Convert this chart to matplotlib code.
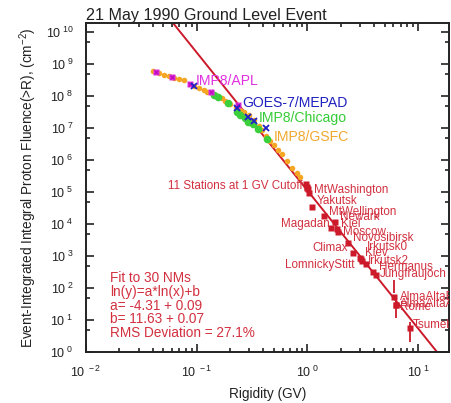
import numpy as np
import matplotlib
matplotlib.use("Agg")
import matplotlib.pyplot as plt
from matplotlib.ticker import LogLocator, FuncFormatter, NullFormatter

plt.rcParams['font.family'] = ['Liberation Sans', 'DejaVu Sans']
plt.rcParams['mathtext.fontset'] = 'custom'
plt.rcParams['mathtext.rm'] = 'Liberation Sans'

# fit: ln(y) = a*ln(x) + b
fit_a = -4.31
fit_b = 11.63

# satellite data (rigidity GV, fluence > R)
gsfc_x = [0.0407, 0.0457, 0.0507, 0.0563, 0.0625, 0.0693, 0.0769, 0.0946, 0.105, 0.116,
          0.125, 0.138, 0.153, 0.170, 0.182, 0.202, 0.225, 0.249, 0.267, 0.296, 0.329,
          0.365, 0.391, 0.428, 0.465, 0.497, 0.541, 0.592, 0.656, 0.728, 0.81, 0.865]
gsfc_y = [6.0e8, 5.1e8, 4.5e8, 4.2e8, 3.7e8, 3.4e8, 3.2e8, 2.1e8, 1.8e8, 1.5e8,
          1.36e8, 1.2e8, 1.02e8, 8.5e7, 6.9e7, 5.5e7, 4.6e7, 3.6e7, 3.2e7, 2.6e7, 1.8e7,
          1.18e7, 8.7e6, 5.4e6, 3.9e6, 2.9e6, 2.1e6, 1.5e6, 9.3e5, 5.7e5, 3.8e5, 3.0e5]
chicago_x = [0.144, 0.156, 0.192, 0.231, 0.248, 0.276, 0.289, 0.321, 0.357, 0.433]
chicago_y = [1.07e8, 9.5e7, 5.9e7, 3.2e7, 2.6e7, 2.0e7, 1.58e7, 1.3e7, 9.3e6, 4.6e6]
apl_x = [0.0428, 0.0604, 0.087, 0.135, 0.237]
apl_y = [5.5e8, 4.0e8, 2.3e8, 1.3e8, 5.2e7]
goes_x = [0.0946, 0.231, 0.294, 0.327, 0.422]
goes_y = [2.1e8, 4.1e7, 2.2e7, 1.67e7, 9.6e6]

# neutron monitor stations
cluster_x = [0.97, 0.99, 1.01, 1.03]
cluster_y = [1.75e5, 1.45e5, 1.2e5, 9.5e4]
station_names = ['MtWashington', 'Yakutsk', 'MtWellington', 'Newark', 'Magadan', 'Kiel',
                 'Moscow', 'Novosibirsk', 'Climax', 'Irkutsk0', 'Kiev', 'LomnickyStitt',
                 'Irkutsk2', 'Hermanus', 'Jungfraujoch', 'AlmaAltaB', 'AlmaAltaA', 'Rome',
                 'Tsumeb']
station_x = [1.0, 1.10, 1.42, 1.79, 1.63, 1.85, 1.91, 2.31, 2.61, 3.0, 3.07, 3.11,
             3.40, 3.96, 4.19, 6.08, 6.3, 6.3, 8.47]
station_y = [1.36e5, 3.5e4, 1.8e4, 1.18e4, 7.6e3, 6.9e3, 5.7e3, 2.5e3, 1.2e3, 8.5e2, 7.9e2,
             6.9e2, 5.5e2, 3.2e2, 2.6e2, 52, 29.5, 29.5, 5.7]
# stations drawn with error bars
err_x = [6.08, 6.3, 8.47]
err_y = [110, 29.5, 5.7]
err_lo = [69, 11.5, 2.1]
err_hi = [178, 42, 8.9]

# label offsets in pixels (dx, dy, ha)
label_off = [(7, -2, 'left'), (5, 6, 'left'), (5, 4, 'left'), (5, 5, 'left'),
             (-1, 4, 'right'), (4, 5, 'left'), (5, 0, 'left'), (5, 5, 'left'),
             (-5, 5, 'right'), (7, 11, 'left'), (4, 6, 'left'), (-7, -4, 'right'),
             (2, 3, 'left'), (6, 5, 'left'), (4, 1, 'left'), (6, 0, 'left'),
             (4, 1, 'left'), (4, -2, 'left'), (3, 3, 'left')]

red = '#cc1a2a'
tred = '#d2303f'

fig = plt.figure(figsize=(4.52, 4.03), dpi=100)
ax = fig.add_axes([0.190, 0.1266, 0.803, 0.8164])

xl = np.array([0.01, 19.0])
ax.plot(xl, np.exp(fit_b) * xl ** fit_a, color=red, lw=1.4, zorder=2)

ax.plot(gsfc_x, gsfc_y, 'o', color='#f5a623', ms=4, mec='none', zorder=3)
ax.plot(chicago_x, chicago_y, 'o', color='#3ccf3c', ms=5.5, mec='none', zorder=4)
ax.plot(apl_x, apl_y, 's', color='#e030e0', ms=4.5, mec='none', zorder=5)
ax.plot(apl_x, apl_y, 'x', color='#c010c0', ms=3.5, mew=1, zorder=5)
ax.plot(goes_x, goes_y, 'x', color='#2020c8', ms=4.5, mew=1.3, zorder=6)

ax.plot(cluster_x, cluster_y, 's', color=red, ms=4, mec='none', zorder=5)
ax.plot(station_x, station_y, 's', color=red, ms=4, mec='none', zorder=5)
ey = np.array(err_y)
ax.errorbar(err_x, err_y, yerr=[ey - np.array(err_lo), np.array(err_hi) - ey],
            fmt='none', ecolor=red, elinewidth=1.3, capsize=0, zorder=5)

for name, x, y, (dx, dy, ha) in zip(station_names, station_x, station_y, label_off):
    ax.annotate(name, (x, y), xytext=(dx, dy), textcoords='offset pixels',
                ha=ha, va='center', fontsize=8.4, color=tred, annotation_clip=False,
                clip_on=True, zorder=7)
ax.annotate('11 Stations at 1 GV Cutoff', (cluster_x[0], 1.5e5), xytext=(-3, 0),
            textcoords='offset pixels', ha='right', va='center', fontsize=8.4,
            color=tred, zorder=7)

ax.text(0.098, 3.0e8, 'IMP8/APL', color='#e030e0', fontsize=10.1, va='center')
ax.text(0.26, 6.0e7, 'GOES-7/MEPAD', color='#2020c0', fontsize=10.1, va='center')
ax.text(0.362, 2.05e7, 'IMP8/Chicago', color='#35cc35', fontsize=10.1, va='center')
ax.text(0.494, 5.2e6, 'IMP8/GSFC', color='#f0a830', fontsize=10.1, va='center')

fit_lines = ['Fit to 30 NMs', 'ln(y)=a*ln(x)+b', 'a= -4.31 + 0.09', 'b= 11.63 + 0.07',
             'RMS Deviation = 27.1%']
ax.text(0.0164, 3.4e2, '\n'.join(fit_lines), color=tred, fontsize=9.8, va='top',
        linespacing=0.98)

ax.set_xscale('log')
ax.set_yscale('log')
ax.set_xlim(0.01, 19.0)
ax.set_ylim(1, 1.9e10)

ax.xaxis.set_major_locator(LogLocator(base=10, numticks=10))
ax.xaxis.set_minor_locator(LogLocator(base=10, subs=np.arange(2, 10), numticks=10))
ax.yaxis.set_major_locator(LogLocator(base=10, numticks=20))
ax.yaxis.set_minor_locator(LogLocator(base=10, subs=[5], numticks=20))
fmt = FuncFormatter(lambda v, p: r'$\mathdefault{10^{\;%d}}$' % round(np.log10(v)))
ax.xaxis.set_major_formatter(fmt)
ax.yaxis.set_major_formatter(fmt)
ax.xaxis.set_minor_formatter(NullFormatter())
ax.yaxis.set_minor_formatter(NullFormatter())

ax.tick_params(which='both', direction='in', top=True, right=True, width=1.2,
               labelsize=9, colors='#222222')
ax.tick_params(which='major', length=6)
ax.tick_params(which='minor', length=3)
ax.tick_params(axis='x', pad=9)
ax.tick_params(axis='y', pad=9)
for s in ax.spines.values():
    s.set_linewidth(1.4)
    s.set_color('#222222')

ax.set_xlabel('Rigidity (GV)', fontsize=9.8, color='#222222')
ax.xaxis.set_label_coords(0.5, -0.105)
ax.set_ylabel('Event-Integrated Integral Proton Fluence(>R), (cm$^{-2}$)', fontsize=9.8,
              color='#222222')
ax.yaxis.set_label_coords(-0.13, 0.5)
ax.set_title('21 May 1990 Ground Level Event', loc='left', fontsize=11.6, pad=2,
             color='#222222')

fig.savefig('out.png', dpi=100)
